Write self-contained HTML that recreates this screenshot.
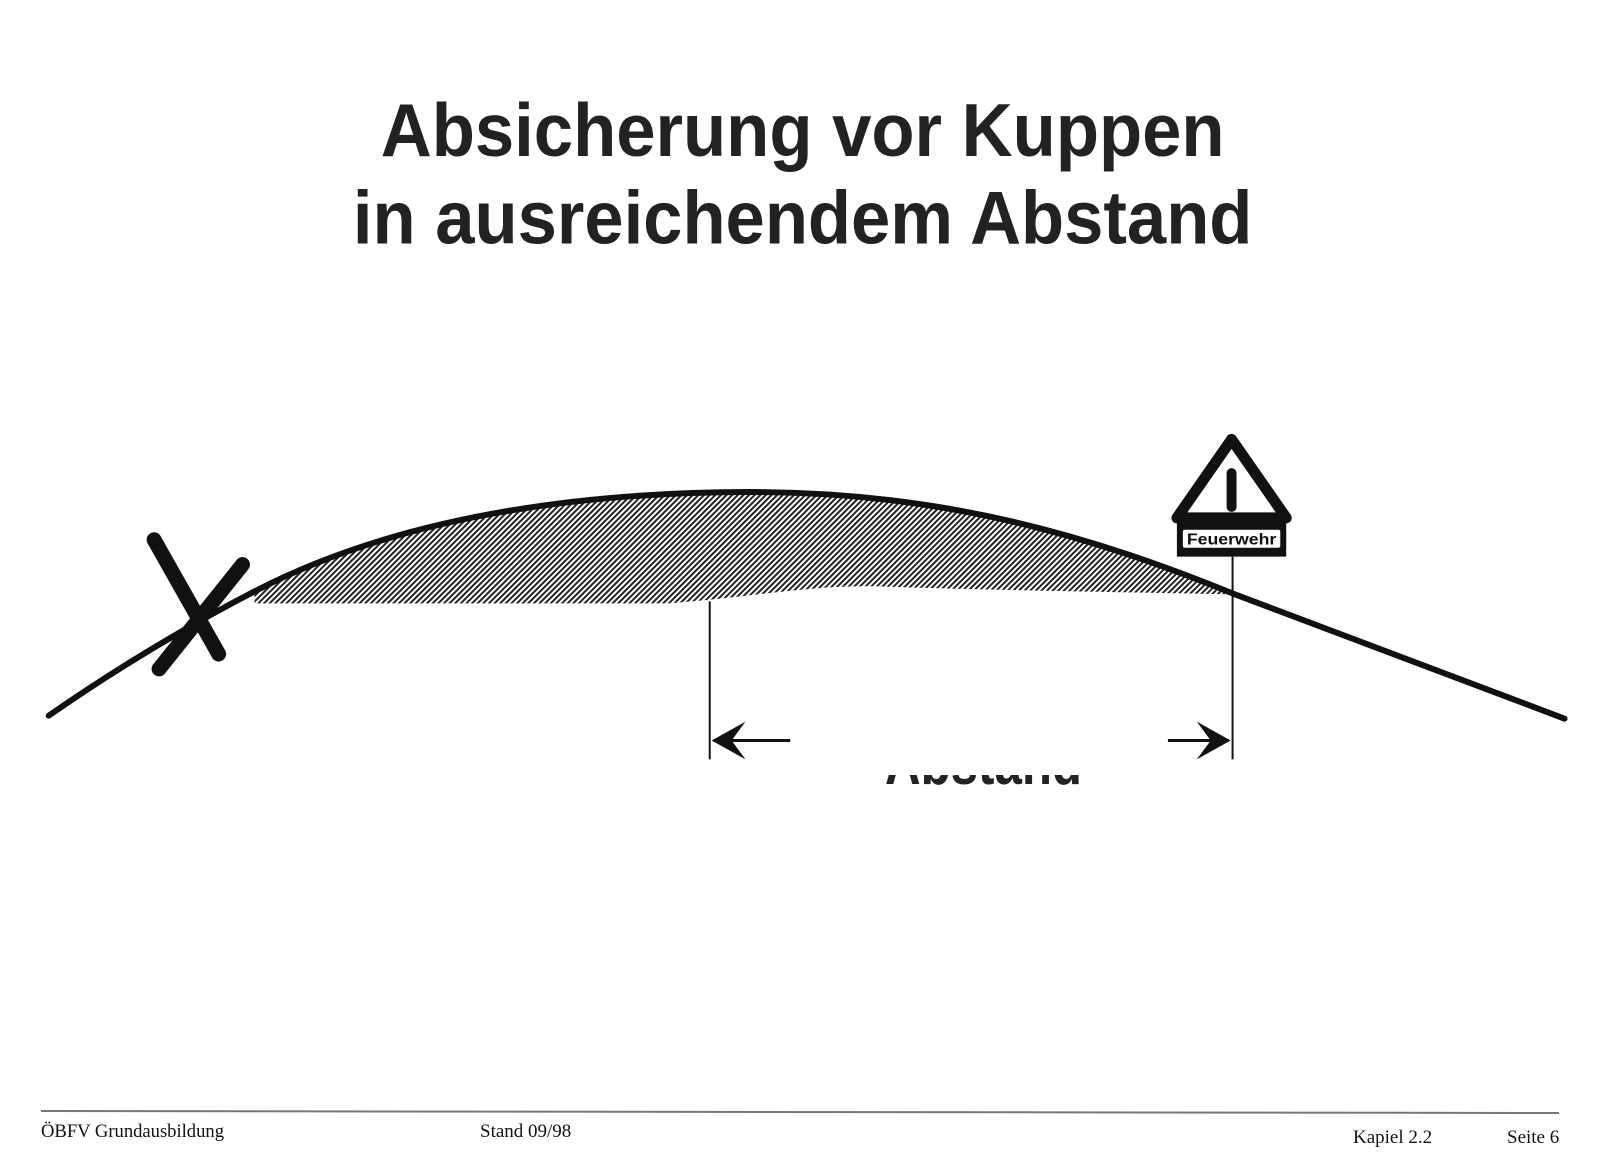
<!DOCTYPE html>
<html><head><meta charset="utf-8"><style>
html,body{margin:0;padding:0;background:#fff;}
svg{display:block;}
</style></head><body>
<svg width="1615" height="1169" viewBox="0 0 1615 1169" xmlns="http://www.w3.org/2000/svg">
<defs>
<pattern id="h" width="4" height="4" patternUnits="userSpaceOnUse" patternTransform="rotate(45)">
<rect width="4" height="4" fill="#fff"/><rect width="2" height="4" fill="#222"/>
</pattern>
<clipPath id="cl"><rect x="0" y="775" width="1615" height="20"/></clipPath>
</defs>
<g transform="scale(0.994)">
<g font-family="Liberation Sans, Arial, sans-serif" font-weight="bold" fill="#222">
<text x="383" y="157" font-size="76" textLength="849" lengthAdjust="spacingAndGlyphs">Absicherung vor Kuppen</text>
<text x="355" y="245" font-size="76" textLength="905" lengthAdjust="spacingAndGlyphs">in ausreichendem Abstand</text>
</g>
<path d="M256,607 L673,607 C760,600 820,588 885,590 C1000,594 1150,596 1240,598 C1100,540 950,495 756,495 C620,495 420,510 256,595 Z" fill="url(#h)"/>
<path d="M49,720 Q150,650 256,595 C420,510 620,495 756,495 C950,495 1100,540 1240,597 L1574,723" fill="none" stroke="#111" stroke-width="6" stroke-linecap="round"/>
<g stroke="#111" stroke-width="15" stroke-linecap="round">
<line x1="155" y1="543" x2="220" y2="658"/>
<line x1="244" y1="568" x2="160" y2="673"/>
</g>
<line x1="714" y1="605" x2="714" y2="764" stroke="#111" stroke-width="2"/>
<line x1="1240" y1="560" x2="1240" y2="764" stroke="#111" stroke-width="2"/>
<line x1="718" y1="745" x2="795" y2="745" stroke="#111" stroke-width="3"/>
<path d="M716,745 L750,726 L736,745 L750,764 Z" fill="#111"/>
<line x1="1175" y1="745" x2="1236" y2="745" stroke="#111" stroke-width="3"/>
<path d="M1238,745 L1204,726 L1218,745 L1204,764 Z" fill="#111"/>
<g transform="translate(6,6)">
<path d="M1233,436 L1288,515 L1178,515 Z" fill="#fff" stroke="#111" stroke-width="11" stroke-linejoin="round"/>
<rect x="1178" y="513" width="110" height="41" fill="#111"/>
<rect x="1184" y="527" width="98" height="18" rx="2" fill="#fff"/>
<text x="1233" y="542" text-anchor="middle" font-family="Liberation Sans, Arial, sans-serif" font-weight="bold" font-size="16" fill="#111" textLength="90" lengthAdjust="spacingAndGlyphs">Feuerwehr</text>
<line x1="1233" y1="470" x2="1233" y2="504" stroke="#111" stroke-width="10" stroke-linecap="round"/>
</g>
</g>
<text x="885" y="784" font-family="Liberation Sans, Arial, sans-serif" font-weight="bold" font-size="62" fill="#222" textLength="197" lengthAdjust="spacingAndGlyphs" clip-path="url(#cl)">Abstand</text>
<line x1="41" y1="1111" x2="1559" y2="1113" stroke="#777" stroke-width="2"/>
<g font-family="Liberation Serif, Times New Roman, serif" font-size="19" fill="#111">
<text x="41" y="1137" textLength="183" lengthAdjust="spacingAndGlyphs">ÖBFV Grundausbildung</text>
<text x="480" y="1137">Stand 09/98</text>
<text x="1353" y="1143">Kapiel 2.2</text>
<text x="1507" y="1143">Seite 6</text>
</g>
</svg>
</body></html>
